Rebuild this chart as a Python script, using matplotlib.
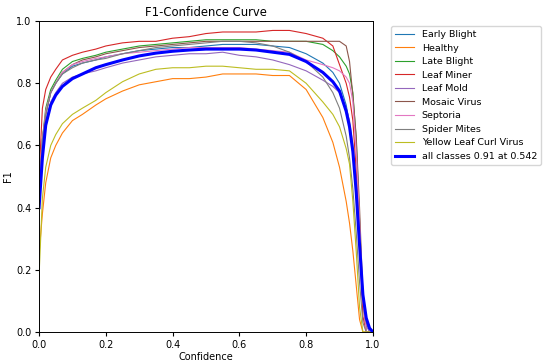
import matplotlib
matplotlib.use("Agg")
import matplotlib.pyplot as plt

conf = [0.0, 0.01, 0.02, 0.035, 0.05, 0.07, 0.1, 0.13, 0.17, 0.2, 0.25, 0.3, 0.35,
        0.4, 0.45, 0.5, 0.55, 0.6, 0.65, 0.7, 0.75, 0.8, 0.85, 0.88, 0.9, 0.92,
        0.93, 0.94, 0.95, 0.96, 0.97, 0.98, 0.99, 1.0]

names = ["Early Blight", "Healthy", "Late Blight", "Leaf Miner", "Leaf Mold",
         "Mosaic Virus", "Septoria", "Spider Mites", "Yellow Leaf Curl Virus"]

early_blight = [0.42, 0.60, 0.70, 0.77, 0.80, 0.83, 0.855, 0.865, 0.875, 0.885, 0.895, 0.905, 0.91,
                0.915, 0.915, 0.92, 0.925, 0.925, 0.925, 0.92, 0.915, 0.895, 0.865, 0.835, 0.80, 0.73,
                0.67, 0.58, 0.45, 0.30, 0.13, 0.03, 0.0, 0.0]
healthy = [0.25, 0.38, 0.48, 0.56, 0.60, 0.64, 0.68, 0.70, 0.73, 0.75, 0.775, 0.795, 0.805,
           0.815, 0.815, 0.82, 0.83, 0.83, 0.83, 0.825, 0.825, 0.78, 0.69, 0.61, 0.53, 0.42,
           0.35, 0.26, 0.15, 0.04, 0.0, 0.0, 0.0, 0.0]
late_blight = [0.42, 0.62, 0.72, 0.78, 0.81, 0.845, 0.87, 0.88, 0.89, 0.90, 0.91, 0.92, 0.925,
               0.93, 0.935, 0.94, 0.94, 0.94, 0.94, 0.935, 0.935, 0.935, 0.925, 0.905, 0.885, 0.855,
               0.83, 0.77, 0.62, 0.36, 0.10, 0.0, 0.0, 0.0]
leaf_miner = [0.50, 0.72, 0.78, 0.82, 0.845, 0.875, 0.89, 0.90, 0.91, 0.92, 0.93, 0.935, 0.935,
              0.945, 0.95, 0.96, 0.965, 0.965, 0.965, 0.97, 0.97, 0.96, 0.945, 0.92, 0.86, 0.80,
              0.755, 0.68, 0.52, 0.30, 0.05, 0.0, 0.0, 0.0]
leaf_mold = [0.42, 0.60, 0.68, 0.74, 0.77, 0.80, 0.82, 0.83, 0.84, 0.85, 0.865, 0.875, 0.885,
             0.89, 0.895, 0.895, 0.90, 0.89, 0.885, 0.875, 0.86, 0.84, 0.81, 0.79, 0.77, 0.72,
             0.68, 0.60, 0.47, 0.30, 0.12, 0.02, 0.0, 0.0]
mosaic_virus = [0.42, 0.62, 0.70, 0.77, 0.80, 0.835, 0.86, 0.875, 0.885, 0.895, 0.905, 0.915, 0.92,
                0.925, 0.93, 0.935, 0.935, 0.935, 0.935, 0.935, 0.935, 0.935, 0.935, 0.935, 0.935, 0.92,
                0.87, 0.76, 0.63, 0.40, 0.12, 0.0, 0.0, 0.0]
septoria = [0.42, 0.62, 0.71, 0.77, 0.80, 0.835, 0.86, 0.87, 0.88, 0.885, 0.895, 0.90, 0.905,
            0.91, 0.915, 0.915, 0.915, 0.915, 0.91, 0.905, 0.90, 0.875, 0.86, 0.85, 0.84, 0.82,
            0.80, 0.74, 0.58, 0.36, 0.10, 0.0, 0.0, 0.0]
spider_mites = [0.42, 0.62, 0.70, 0.77, 0.80, 0.83, 0.85, 0.865, 0.875, 0.88, 0.895, 0.905, 0.915,
                0.92, 0.925, 0.93, 0.935, 0.935, 0.93, 0.92, 0.90, 0.87, 0.82, 0.77, 0.72, 0.63,
                0.56, 0.46, 0.32, 0.16, 0.03, 0.0, 0.0, 0.0]
yellow_leaf_curl = [0.18, 0.43, 0.53, 0.60, 0.635, 0.67, 0.70, 0.72, 0.745, 0.77, 0.805, 0.83, 0.845,
                    0.85, 0.85, 0.855, 0.855, 0.85, 0.845, 0.845, 0.84, 0.80, 0.74, 0.70, 0.66, 0.59,
                    0.54, 0.42, 0.26, 0.08, 0.0, 0.0, 0.0, 0.0]
all_classes = [0.40, 0.56, 0.665, 0.73, 0.762, 0.79, 0.815, 0.83, 0.85, 0.86, 0.875, 0.888, 0.897,
               0.903, 0.907, 0.91, 0.91, 0.91, 0.907, 0.90, 0.893, 0.87, 0.835, 0.805, 0.775, 0.71,
               0.66, 0.58, 0.45, 0.28, 0.12, 0.045, 0.012, 0.0]

curves = [early_blight, healthy, late_blight, leaf_miner, leaf_mold,
          mosaic_virus, septoria, spider_mites, yellow_leaf_curl]

plt.rcParams['font.size'] = 7
plt.rcParams['xtick.major.size'] = 3
plt.rcParams['ytick.major.size'] = 3
plt.rcParams['xtick.major.pad'] = 2.5
plt.rcParams['ytick.major.pad'] = 2.5
plt.rcParams['axes.linewidth'] = 0.7

fig, ax = plt.subplots(1, 1, figsize=(5.5, 3.64), dpi=100)
fig.subplots_adjust(left=0.071, right=0.678, bottom=0.088, top=0.942)

for name, f1 in zip(names, curves):
    ax.plot(conf, f1, linewidth=0.8, label=name)
ax.plot(conf, all_classes, linewidth=2.2, color='blue', label='all classes 0.91 at 0.542')

ax.set_xlim(0, 1)
ax.set_ylim(0, 1)
ax.set_xlabel('Confidence', labelpad=1.5)
ax.set_ylabel('F1', labelpad=2)
ax.set_title('F1-Confidence Curve', fontsize=8.4, pad=4)
ax.legend(bbox_to_anchor=(1.04, 1), loc='upper left', fontsize=6.8, labelspacing=0.48,
          borderpad=0.45, handlelength=2.0)

fig.savefig('out.png', dpi=100)
